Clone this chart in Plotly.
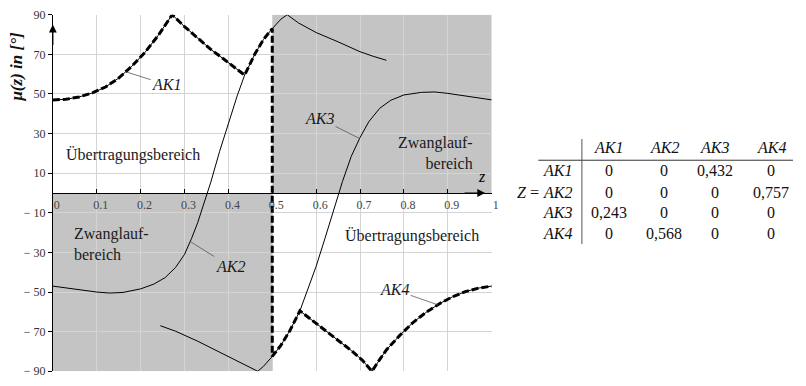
import numpy as np
import plotly.graph_objects as go

W, H = 806, 386
# plot area box (pixels)
PX0, PX1 = 53.3, 496.0
PY0, PY1 = 8.0, 378.0

SERIF = "Times New Roman, Liberation Serif, DejaVu Serif, serif"

# ---- transmission angle mu(z) in degrees for the four branches
ak1_z = [0.0, 0.03, 0.06, 0.09, 0.12, 0.15, 0.18, 0.21, 0.24, 0.256, 0.272,
         0.30, 0.33, 0.36, 0.39, 0.415, 0.437]
ak1_mu = [47.0, 47.3, 48.5, 50.5, 53.5, 58.0, 64.0, 71.0, 79.5, 84.5, 90.0,
          84.0, 78.0, 72.5, 67.5, 63.3, 59.5]

ak2_z = [0.0, 0.05, 0.1, 0.13, 0.16, 0.2, 0.23, 0.256, 0.28, 0.3, 0.316, 0.33,
         0.34, 0.35, 0.36, 0.38, 0.4, 0.42, 0.437, 0.46, 0.48, 0.5, 0.52, 0.534,
         0.56, 0.6, 0.65, 0.7, 0.73, 0.76]
ak2_mu = [-47.0, -48.5, -50.0, -50.5, -50.2, -48.4, -46.0, -42.7, -37.5, -31.0,
          -23.0, -15.0, -8.5, -1.5, 5.5, 21.0, 35.0, 49.0, 59.5, 70.0, 77.5, 83.0,
          87.8, 90.0, 85.8, 81.0, 76.3, 71.3, 69.0, 67.0]

ak3_z = [0.245, 0.28, 0.33, 0.38, 0.42, 0.45, 0.467, 0.48, 0.5, 0.52, 0.54,
         0.563, 0.58, 0.6, 0.62, 0.64, 0.65, 0.66, 0.68, 0.7, 0.72, 0.745, 0.77,
         0.8, 0.84, 0.87, 0.9, 0.95, 1.0]
ak3_mu = [-67.0, -69.8, -74.8, -80.3, -84.8, -88.0, -90.0, -87.5, -82.5, -76.8,
          -69.5, -59.5, -49.0, -37.0, -23.0, -8.5, -1.2, 5.8, 18.5, 28.0, 36.0,
          42.8, 46.8, 49.5, 50.8, 51.0, 50.3, 48.6, 47.0]

ak4_z = [0.563, 0.6, 0.64, 0.68, 0.705, 0.727, 0.745, 0.76, 0.79, 0.82, 0.85,
         0.88, 0.91, 0.94, 0.97, 1.0]
ak4_mu = [-59.5, -65.8, -72.5, -79.5, -84.3, -90.0, -84.0, -79.2, -72.0, -65.5,
          -60.3, -56.0, -52.5, -49.8, -48.0, -47.0]

z_switch = 0.5  # boundary between the two regions

# axis ticks
x_ticks = [0.0, 0.1, 0.2, 0.3, 0.4, 0.5, 0.6, 0.7, 0.8, 0.9, 1.0]
x_labels = ["0", "0.1", "0.2", "0.3", "0.4", "0.5", "0.6", "0.7", "0.8", "0.9", "1"]
y_ticks = [90, 70, 50, 30, 10, -10, -30, -50, -70, -90]
y_labels = ["90", "70", "50", "30", "10", "\u2212 10", "\u2212 30", "\u2212 50",
            "\u2212 70", "\u2212 90"]

# switching matrix Z
branches = ["AK1", "AK2", "AK3", "AK4"]
z_row_ak1 = [0, 0, 0.432, 0]
z_row_ak2 = [0, 0, 0, 0.757]
z_row_ak3 = [0.243, 0, 0, 0]
z_row_ak4 = [0, 0.568, 0, 0]
z_matrix = [z_row_ak1, z_row_ak2, z_row_ak3, z_row_ak4]

# ---- active path: AK1 -> AK2 -> jump at z_switch -> AK3 -> AK4
a2z, a2m = np.array(ak2_z), np.array(ak2_mu)
a3z, a3m = np.array(ak3_z), np.array(ak3_mu)
m2 = (a2z > ak1_z[-1]) & (a2z <= z_switch)
m3 = (a3z >= z_switch) & (a3z < ak4_z[0])
path_z = list(ak1_z) + list(a2z[m2]) + list(a3z[m3]) + list(ak4_z)
path_mu = list(ak1_mu) + list(a2m[m2]) + list(a3m[m3]) + list(ak4_mu)

fig = go.Figure()

for zz, mm in [(ak1_z, ak1_mu), (ak2_z, ak2_mu), (ak3_z, ak3_mu), (ak4_z, ak4_mu)]:
    fig.add_trace(go.Scatter(x=zz, y=mm, mode="lines",
                             line=dict(color="black", width=1), hoverinfo="skip"))

fig.add_trace(go.Scatter(x=path_z, y=path_mu, mode="lines",
                         line=dict(color="black", width=3, dash="7px,3px"),
                         hoverinfo="skip"))

# shaded regions
shapes = [
    dict(type="rect", xref="x", yref="y", x0=0, x1=z_switch, y0=-90, y1=0,
         fillcolor="#c4c4c4", line=dict(width=0), layer="below"),
    dict(type="rect", xref="x", yref="y", x0=z_switch, x1=1, y0=0, y1=90,
         fillcolor="#c4c4c4", line=dict(width=0), layer="below"),
]


def px_x(px):
    return px / W


def px_y(py):
    return 1 - py / H


annotations = []

# axis arrows
annotations.append(dict(x=0.985, y=0, xref="x", yref="y", ax=-22, ay=0, text="",
                        showarrow=True, arrowhead=2, arrowsize=1.3, arrowwidth=1.2,
                        arrowcolor="black"))
annotations.append(dict(x=0, y=85, xref="x", yref="y", ax=0, ay=22, text="",
                        showarrow=True, arrowhead=2, arrowsize=1.3, arrowwidth=1.2,
                        arrowcolor="black"))
annotations.append(dict(x=0.979, y=3, xref="x", yref="y", text="<i>z</i>",
                        showarrow=False, xanchor="center", yanchor="bottom",
                        font=dict(family=SERIF, size=16, color="black")))

# axis title
annotations.append(dict(x=px_x(17), y=px_y(62), xref="paper", yref="paper",
                        xanchor="center", yanchor="middle",
                        text="<b><i>\u03bc(z) in [\u00b0]</i></b>", textangle=-90,
                        showarrow=False,
                        font=dict(family=SERIF, size=17, color="#111111")))

# branch labels with leader lines
label_font = dict(family=SERIF, size=16, color="#1a1a1a")
for name, zz, mm, zl, ax, ay in [
    ("AK1", ak1_z, ak1_mu, 0.166, 41, 13),
    ("AK2", ak2_z, ak2_mu, 0.313, 40, 25),
    ("AK3", ak3_z, ak3_mu, 0.699, -40, -20),
    ("AK4", ak4_z, ak4_mu, 0.877, -43, -15),
]:
    annotations.append(dict(x=zl, y=float(np.interp(zl, zz, mm)), xref="x", yref="y",
                            ax=ax, ay=ay, text=f"<i>{name}</i>", showarrow=True,
                            arrowhead=0, arrowwidth=0.8, arrowcolor="#555555",
                            standoff=0, font=label_font))

# region labels
region_font = dict(family=SERIF, size=16, color="#1a1a1a")
annotations += [
    dict(x=0.026, y=19.0, xref="x", yref="y", text="\u00dcbertragungsbereich",
         showarrow=False, xanchor="left", yanchor="middle", font=region_font),
    dict(x=0.962, y=20.0, xref="x", yref="y", text="Zwanglauf-<br>bereich",
         showarrow=False, xanchor="right", yanchor="middle", align="right",
         font=region_font),
    dict(x=0.044, y=-25.5, xref="x", yref="y", text="Zwanglauf-<br>bereich",
         showarrow=False, xanchor="left", yanchor="middle", align="left",
         font=region_font),
    dict(x=0.662, y=-21.5, xref="x", yref="y", text="\u00dcbertragungsbereich",
         showarrow=False, xanchor="left", yanchor="middle", font=region_font),
]

# switching matrix table
tfont = dict(family=SERIF, size=16, color="#111111")
col_px = [614, 670, 721, 778]
row_px = [170, 192, 213, 235]
head_py = 146
for cx, name in zip(col_px, branches):
    annotations.append(dict(x=px_x(cx), y=px_y(head_py), xref="paper", yref="paper",
                            xanchor="center", yanchor="middle",
                            text=f"<i>{name}</i>", showarrow=False, font=tfont))
for ry, name, row in zip(row_px, branches, z_matrix):
    annotations.append(dict(x=px_x(579), y=px_y(ry), xref="paper", yref="paper",
                            xanchor="right", yanchor="middle",
                            text=f"<i>{name}</i>", showarrow=False, font=tfont))
    for cx, v in zip(col_px, row):
        txt = "0" if v == 0 else f"{v:.3f}".replace(".", ",")
        annotations.append(dict(x=px_x(cx), y=px_y(ry), xref="paper", yref="paper",
                                xanchor="center", yanchor="middle",
                                text=txt, showarrow=False, font=tfont))
annotations.append(dict(x=px_x(546), y=px_y(row_px[1]), xref="paper", yref="paper",
                        xanchor="right", yanchor="middle",
                        text="<i>Z</i> =", showarrow=False, font=tfont))
shapes += [
    dict(type="line", xref="paper", yref="paper", x0=px_x(543), x1=px_x(800),
         y0=px_y(159), y1=px_y(159), line=dict(color="#333333", width=1)),
    dict(type="line", xref="paper", yref="paper", x0=px_x(587), x1=px_x(587),
         y0=px_y(137), y1=px_y(246), line=dict(color="#555555", width=1)),
]

yd0, yd1 = 1 - PY1 / H, 1 - PY0 / H
fig.update_layout(
    width=W, height=H,
    margin=dict(l=0, r=0, t=0, b=0),
    paper_bgcolor="white", plot_bgcolor="white",
    showlegend=False,
    shapes=shapes,
    annotations=annotations,
    font=dict(family=SERIF),
    xaxis=dict(domain=[PX0 / W, PX1 / W], range=[0, 1], anchor="free",
               position=(yd0 + yd1) / 2,
               tickvals=x_ticks, ticktext=x_labels,
               showgrid=True, gridcolor="#d4d4d4", gridwidth=1,
               zeroline=False, showline=True, linecolor="black", linewidth=1,
               ticks="inside", ticklen=4, tickcolor="black",
               ticklabelshift=4, ticklabelstandoff=1,
               tickfont=dict(family=SERIF, size=12, color="#444444")),
    yaxis=dict(domain=[yd0, yd1], range=[-90, 90], anchor="x",
               tickvals=y_ticks, ticktext=y_labels,
               showgrid=True, gridcolor="#d4d4d4", gridwidth=1,
               zeroline=False, showline=True, linecolor="black", linewidth=1,
               ticks="outside", ticklen=4, tickcolor="black",
               tickfont=dict(family=SERIF, size=12, color="#333333")),
)

fig.write_html("out.html")
